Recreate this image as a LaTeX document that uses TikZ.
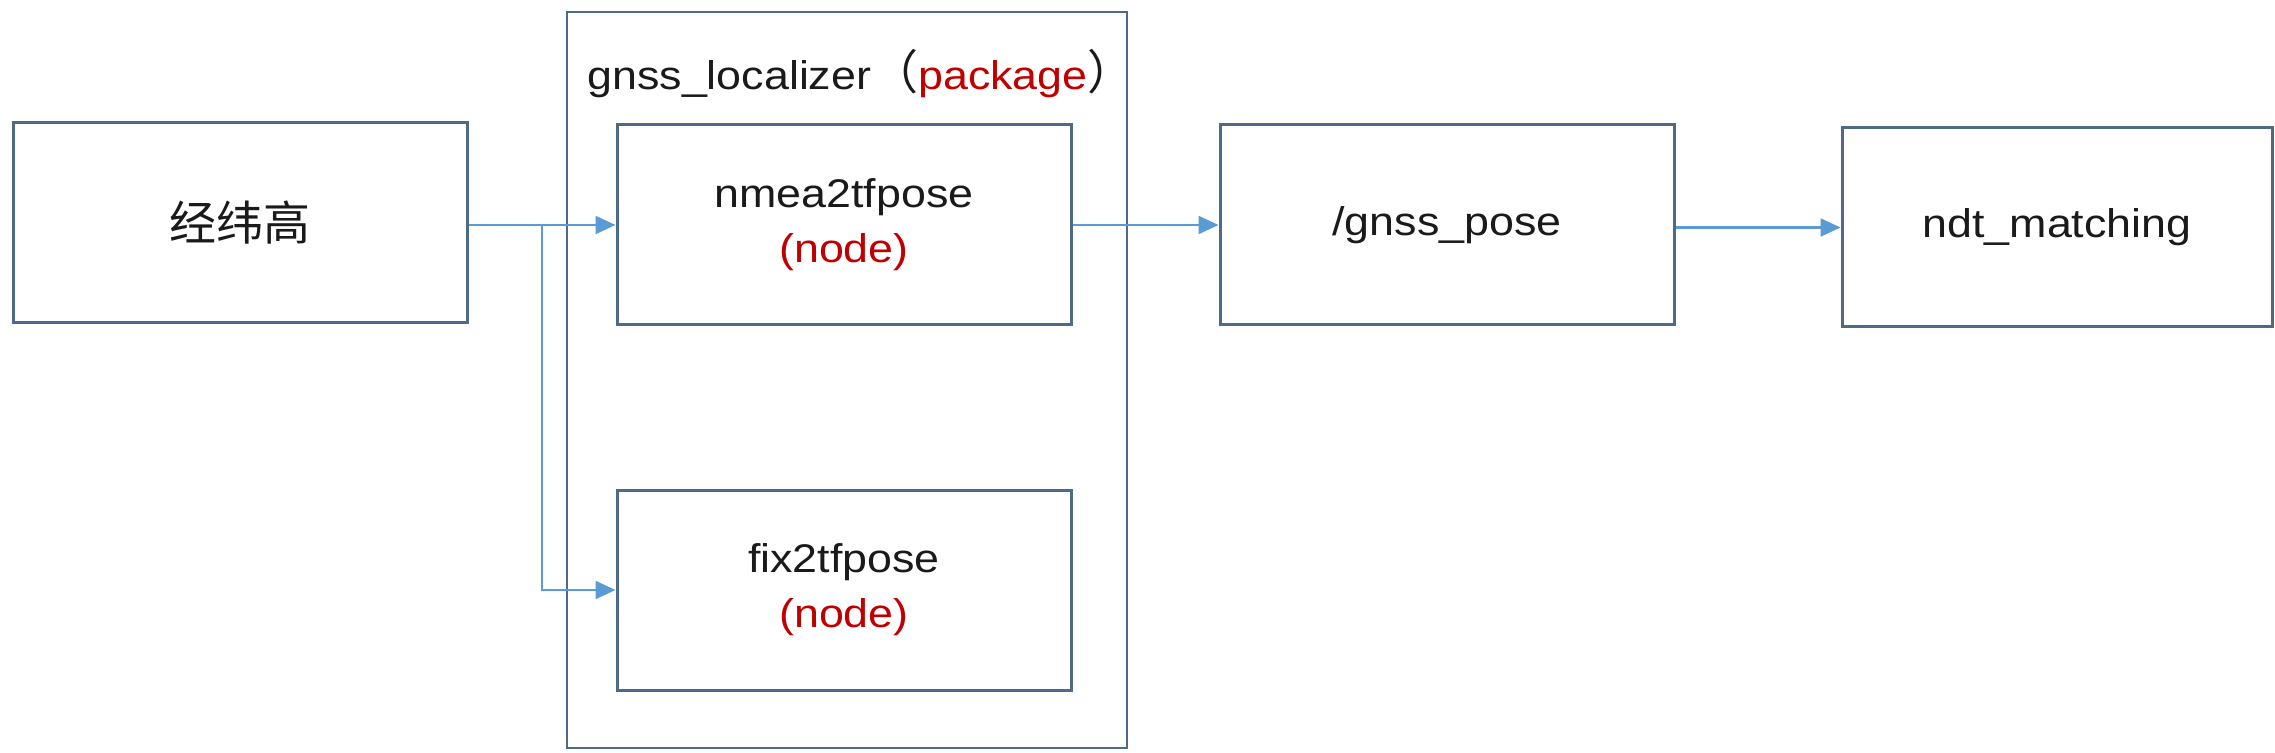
\documentclass[tikz,border=0pt]{standalone}
\usepackage{fontspec}
\setmainfont[FakeStretch=1.12]{Liberation Sans}
\newfontfamily\cjk{Noto Sans CJK SC}
\usetikzlibrary{arrows.meta}
\definecolor{boxline}{HTML}{4F6A88}
\definecolor{arrowblue}{HTML}{5B9BD5}
\definecolor{nodered}{HTML}{C00000}
\definecolor{txt}{HTML}{1A1A1A}
\tikzset{
  box/.style={draw=boxline, line width=1.5pt, minimum width=227pt, minimum height=100pt,
    inner sep=0pt, text=txt, align=center, font=\fontsize{20}{27.5}\selectfont},
  pkgbox/.style={draw=boxline, line width=1pt, minimum width=280pt, minimum height=368pt, inner sep=0pt},
  flow/.style={draw=arrowblue, line width=1.1pt, -{Triangle[length=10pt,width=9pt]}},
}
\begin{document}
\begin{tikzpicture}[x=0.5pt,y=-0.5pt]
\fill[white] (0,0) rectangle (2275,753);
\useasboundingbox (0,0) rectangle (2275,753);
\node[pkgbox] (pkg) at (847,380) {};
\node[anchor=base west, inner sep=0pt, text=txt, font=\fontsize{20}{27.5}\selectfont] (pkglabel) at (587,90)
  {gnss\_localizer{\cjk\fontsize{23.5}{27.5}\selectfont （}\textcolor{nodered}{package}{\cjk\fontsize{23.5}{27.5}\selectfont ）}};
\node[box] (left) at (240,223) {{\cjk\fontsize{23.5}{28}\selectfont 经纬高}};
\node[box] (nmea) at (844,225) {nmea2tfpose\\\textcolor{nodered}{(node)}};
\node[box] (fix) at (844,590) {fix2tfpose\\\textcolor{nodered}{(node)}};
\node[box] (gp) at (1447,225) {/gnss\_pose};
\node[box, minimum width=215pt, minimum height=99.5pt] (ndt) at (2057,227.5) {ndt\_matching};
\coordinate (j) at (542,225);
\draw[flow] (left.east |- nmea.west) -- (nmea.west);
\draw[flow] (j) |- (fix.west);
\draw[flow] (nmea.east) -- (gp.west);
\draw[flow] (gp.east |- ndt.west) -- (ndt.west);
\end{tikzpicture}
\end{document}
